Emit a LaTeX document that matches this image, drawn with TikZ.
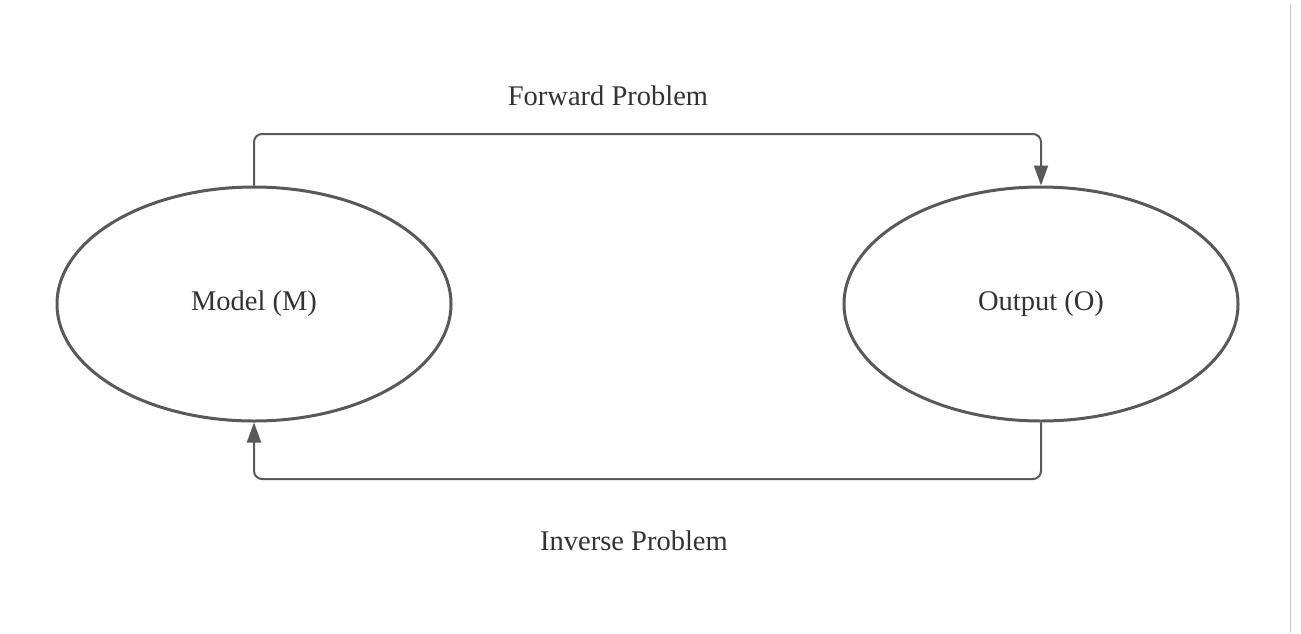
\documentclass[tikz,border=0pt]{standalone}
\usepackage{fontspec}
\setmainfont{Liberation Serif}
\usetikzlibrary{arrows.meta,shapes.geometric}
\definecolor{lc}{HTML}{595959}
\definecolor{tc}{HTML}{333333}
\tikzset{
  blob/.style={ellipse, draw=lc, line width=3pt, minimum width=394pt, minimum height=234pt, inner sep=0pt, font=\fontsize{28.5}{32}\selectfont, text=tc},
  conn/.style={draw=lc, line width=2pt, rounded corners=8pt, -{Triangle[length=20pt,width=14pt]}},
  lbl/.style={font=\fontsize{28.5}{32}\selectfont, text=tc, inner sep=0pt}
}
\begin{document}
\begin{tikzpicture}[x=1pt,y=-1pt]
\useasboundingbox[fill=white] (0,0) rectangle (1301,633);
\draw[gray!45, line width=1pt] (1290,4) -- (1290,633);
\node[blob] (M) at (254,304) {Model (M)};
\node[blob] (O) at (1041,304) {Output (O)};
\coordinate (t) at (0,134);
\coordinate (b) at (0,479);
\draw[conn] (M.north) -- (M.north |- t) -- (O.north |- t) -- (O.north);
\draw[conn] (O.south) -- (O.south |- b) -- (M.south |- b) -- (M.south);
\node[lbl] (fp) at (608,96) {Forward Problem};
\node[lbl] (ip) at (634,541) {Inverse Problem};
\end{tikzpicture}
\end{document}
